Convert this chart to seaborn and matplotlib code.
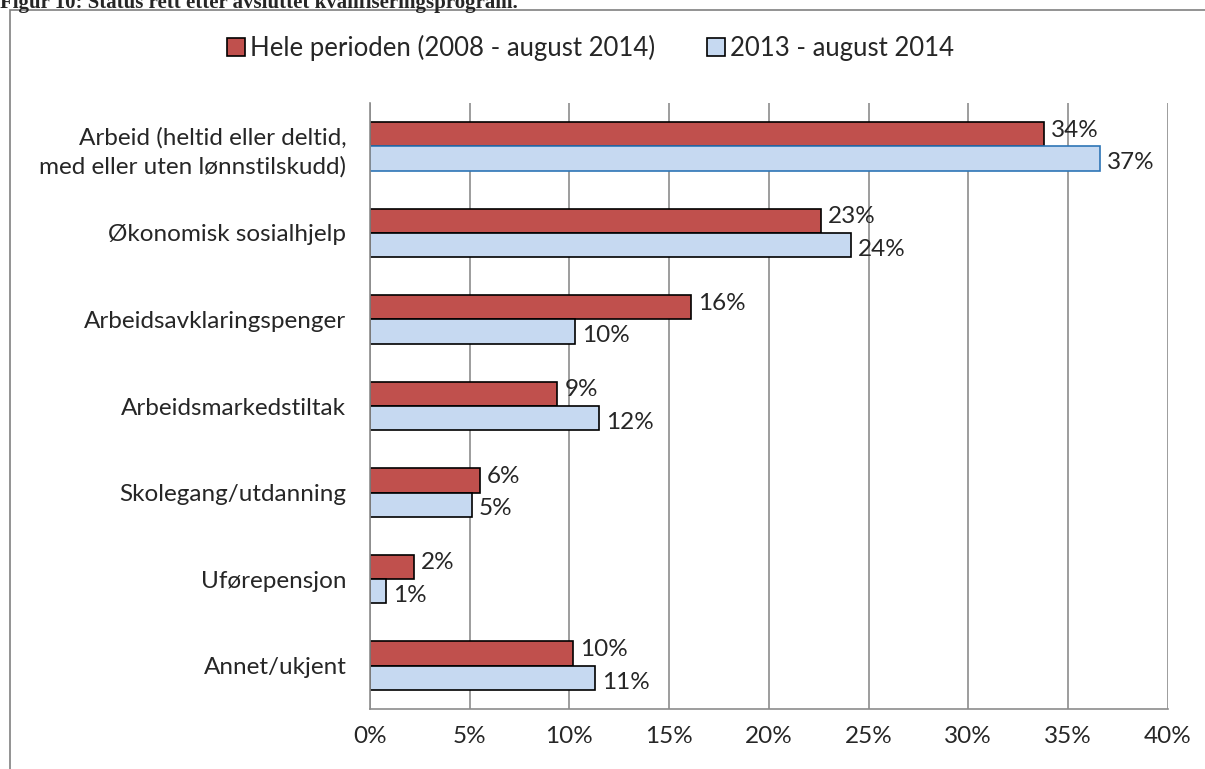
import pandas as pd
import numpy as np
import seaborn as sns
import matplotlib.pyplot as plt
from matplotlib.patches import Rectangle
from matplotlib.ticker import FuncFormatter


# Chart data
categories = ['Arbeid (heltid eller deltid,\nmed eller uten lønnstilskudd)',
              'Økonomisk sosialhjelp',
              'Arbeidsavklaringspenger',
              'Arbeidsmarkedstiltak',
              'Skolegang/utdanning',
              'Uførepensjon',
              'Annet/ukjent']
series = ['Hele perioden (2008 - august 2014)', '2013 - august 2014']
hele_perioden = [33.8, 22.6, 16.1, 9.4, 5.5, 2.2, 10.2]
siste_periode = [36.6, 24.1, 10.3, 11.5, 5.1, 0.8, 11.3]
label_hele = ['34%', '23%', '16%', '9%', '6%', '2%', '10%']
label_siste = ['37%', '24%', '10%', '12%', '5%', '1%', '11%']
xticks = [0, 5, 10, 15, 20, 25, 30, 35, 40]

df = pd.DataFrame({
    'kategori': categories * 2,
    'serie': [series[0]] * len(categories) + [series[1]] * len(categories),
    'andel': hele_perioden + siste_periode,
})

sns.set_style('white')
plt.rcParams['font.family'] = ['Lato', 'DejaVu Sans']

fig = plt.figure(figsize=(12.05, 7.69), dpi=100)
ax = fig.add_axes([0.307, 0.078, 0.662, 0.788])

palette = {series[0]: '#C0504D', series[1]: '#C6D9F1'}
sns.barplot(data=df, y='kategori', x='andel', hue='serie', order=categories,
            hue_order=series, palette=palette, orient='h', width=0.56,
            edgecolor='black', linewidth=1.2, saturation=1, ax=ax, legend=True)

# first light-blue bar is highlighted with a blue edge in the original
ax.containers[1][0].set_edgecolor('#2E75B6')

# data labels, nudged apart vertically like the original
for bars, labels, dy in zip(ax.containers, [label_hele, label_siste], [3, -3]):
    texts = ax.bar_label(bars, labels=labels, padding=5, fontsize=17.5)
    for t in texts:
        t.xyann = (5, dy)

ax.set_xlim(0, 40)
ax.set_ylim(len(categories) - 0.5, -0.5)
ax.set_xticks(xticks)
ax.xaxis.set_major_formatter(FuncFormatter(lambda v, p: f'{v:.0f}%'))
ax.tick_params(axis='x', labelsize=17.5, length=0, pad=12)
ax.tick_params(axis='y', labelsize=17.5, length=0, pad=17)
ax.set_xlabel('')
ax.set_ylabel('')
ax.grid(axis='x', color='#8C8C8C', linewidth=1.2)
ax.set_axisbelow(True)
for side in ['top', 'right']:
    ax.spines[side].set_visible(False)
for side in ['left', 'bottom']:
    ax.spines[side].set_color('#8C8C8C')
    ax.spines[side].set_linewidth(1.2)
for lbl in ax.get_yticklabels():
    lbl.set_horizontalalignment('right')
    lbl.set_multialignment('right')
    lbl.set_linespacing(1.45)

handles, lbls = ax.get_legend_handles_labels()
ax.legend_.remove()
fig.legend(handles, lbls, loc='center', bbox_to_anchor=(0.49, 0.938), ncol=2,
           frameon=False, fontsize=18.5, handlelength=0.7, handleheight=0.7,
           handletextpad=0.2, columnspacing=2.0)

# outer chart frame and clipped figure caption
fig.patches.append(Rectangle((10 / 1205, -0.01), 1.0, 1 - 10 / 769 + 0.01,
                             transform=fig.transFigure, fill=False,
                             edgecolor='#808080', linewidth=1.2))
fig.text(0.0, 1 - 8 / 769, 'Figur 10: Status rett etter avsluttet kvalifiseringsprogram.',
         family='Liberation Serif', fontweight='bold', fontsize=15, va='baseline')

fig.savefig('out.png', dpi=100)
plt.close()
